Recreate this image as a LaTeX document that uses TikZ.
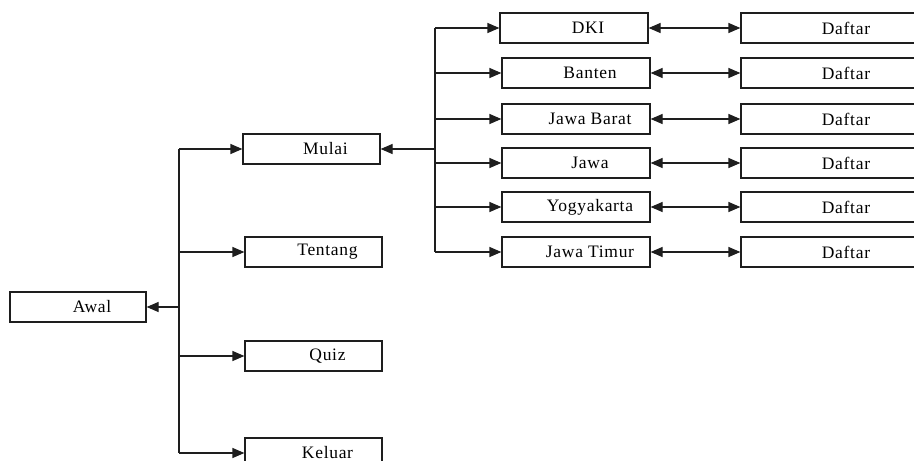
\documentclass[tikz,border=0pt]{standalone}
\usepackage{fontspec}
\setmainfont{Liberation Serif}[LetterSpace=4]
\usetikzlibrary{positioning,arrows.meta}
\definecolor{lineColor}{RGB}{30,30,30}
\tikzstyle{chart} = [x = 1pt, y = -1pt]
\tikzstyle{boxStyle} = [draw=lineColor, line width=1.2pt, minimum height=30pt, inner sep=0pt, font=\fontsize{17.5}{20}\selectfont, execute at begin node=\hspace*{28pt}]
\tikzstyle{menuBox} = [boxStyle, minimum width=137pt]
\tikzstyle{regionBox} = [boxStyle, minimum width=148pt]
\tikzstyle{listBox} = [boxStyle, minimum width=182pt]
\tikzstyle{linkLine} = [draw=lineColor, line width=1.2pt]
\tikzstyle{arrowLine} = [linkLine, -{Triangle[length=12pt, width=10pt]}]
\tikzstyle{bothLine} = [linkLine, {Triangle[length=12pt, width=10pt]}-{Triangle[length=12pt, width=10pt]}]
\begin{document}
\begin{tikzpicture}[chart]
  \useasboundingbox (0,0) rectangle (914,461);

  % menu utama
  \node [menuBox, minimum width=136pt] (awal) at (78,307) {Awal};
  \node [menuBox] (mulai) at (311.5,149) {Mulai};
  \node [menuBox] (tentang) at (313.5,252) {Tentang};
  \node [menuBox] (quiz) at (313.5,356) {Quiz};
  \node [menuBox] (keluar) at (313.5,453) {Keluar};

  \coordinate (menuBus) at (179,307);
  \draw [linkLine] (menuBus |- mulai) -- (menuBus |- keluar);
  \draw [arrowLine] (menuBus) -- (awal.east);
  \foreach \menu in {mulai,tentang,quiz,keluar} {
    \draw [arrowLine] (menuBus |- \menu) -- (\menu.west);
  }

  % provinsi dan daftar
  \foreach \name/\label/\xpos/\ypos in {dki/DKI/574/28, banten/Banten/576/73, jabar/Jawa Barat/576/119, jawa/Jawa/576/163, yogya/Yogyakarta/576/207, jatim/Jawa Timur/576/252} {
    \node [regionBox] (\name) at (\xpos,\ypos) {\label};
    \node [listBox] (daftar\name) at (832,\ypos) {Daftar};
    \draw [bothLine] (\name.east) -- (daftar\name.west);
  }

  \coordinate (regionBus) at (435,149);
  \draw [linkLine] (regionBus |- dki) -- (regionBus |- jatim);
  \draw [arrowLine] (regionBus) -- (mulai.east);
  \foreach \name in {dki,banten,jabar,jawa,yogya,jatim} {
    \draw [arrowLine] (regionBus |- \name) -- (\name.west);
  }
\end{tikzpicture}
\end{document}
